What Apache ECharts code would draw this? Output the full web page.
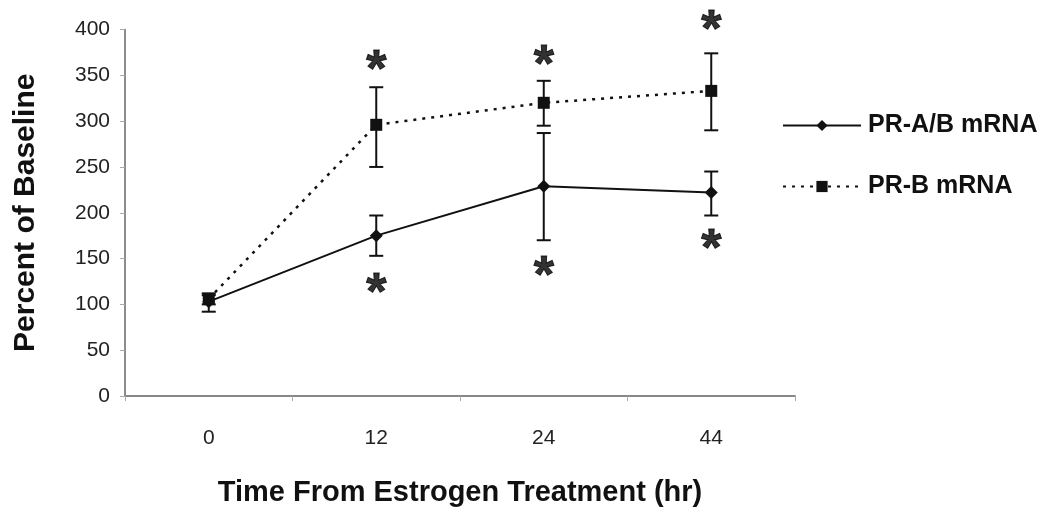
<!DOCTYPE html>
<html>
<head>
<meta charset="utf-8">
<script src="https://cdn.jsdelivr.net/npm/echarts@6/dist/echarts.min.js"></script>
<style>html,body{margin:0;padding:0;background:#fff}#c{width:1052px;height:512px}</style>
</head>
<body>
<div id="c"></div>
<script>
var categories = ['0', '12', '24', '44'];
var prAB = [103, 175, 229, 222];
var prABLow = [92, 153, 170, 197];
var prABHigh = [110, 197, 287, 245];
var prB = [106, 296, 320, 333];
var prBLow = [100, 250, 295, 290];
var prBHigh = [112, 337, 344, 374];
var starPositions = [[1, 365], [1, 121], [2, 370], [2, 140], [3, 409], [3, 169]];
var yTicks = [0, 50, 100, 150, 200, 250, 300, 350, 400];

function errData(lo, hi) {
  return categories.map(function (c, i) { return [i, lo[i], hi[i]]; });
}
function errRender(params, api) {
  var x = api.value(0);
  var p1 = api.coord([x, api.value(1)]);
  var p2 = api.coord([x, api.value(2)]);
  var w = 7;
  var st = { stroke: '#111', lineWidth: 2 };
  return {
    type: 'group',
    children: [
      { type: 'line', shape: { x1: p1[0], y1: p1[1], x2: p2[0], y2: p2[1] }, style: st },
      { type: 'line', shape: { x1: p1[0] - w, y1: p1[1], x2: p1[0] + w, y2: p1[1] }, style: st },
      { type: 'line', shape: { x1: p2[0] - w, y1: p2[1], x2: p2[0] + w, y2: p2[1] }, style: st }
    ]
  };
}

var chart = echarts.init(document.getElementById('c'), null, { renderer: 'canvas' });
chart.setOption({
  animation: false,
  backgroundColor: '#fff',
  textStyle: { fontFamily: 'Liberation Sans, Arial, sans-serif' },
  grid: { left: 125, right: 257, top: 29.5, bottom: 112, containLabel: false },
  legend: {
    orient: 'vertical',
    left: 782,
    top: 113,
    padding: 0,
    itemWidth: 78,
    itemHeight: 14,
    itemGap: 36,
    data: ['PR-A/B mRNA', 'PR-B mRNA'],
    textStyle: { fontSize: 25, fontWeight: 'bold', color: '#111', padding: [0, 0, 0, 2] }
  },
  xAxis: {
    type: 'category',
    data: categories,
    boundaryGap: true,
    name: 'Time From Estrogen Treatment (hr)',
    nameLocation: 'middle',
    nameGap: 82,
    nameTextStyle: { fontSize: 29, fontWeight: 'bold', color: '#111' },
    axisLine: { lineStyle: { color: '#888', width: 2 } },
    axisTick: { show: true, length: 5, lineStyle: { color: '#aaa' } },
    axisLabel: { fontSize: 21, color: '#222', margin: 32 }
  },
  yAxis: {
    type: 'value',
    min: yTicks[0],
    max: yTicks[yTicks.length - 1],
    interval: 50,
    name: 'Percent of Baseline',
    nameLocation: 'middle',
    nameGap: 84,
    nameRotate: 90,
    nameTextStyle: { fontSize: 30, fontWeight: 'bold', color: '#111' },
    axisLine: { show: true, lineStyle: { color: '#666', width: 1.5 } },
    axisTick: { show: true, length: 5, lineStyle: { color: '#aaa' } },
    axisLabel: { fontSize: 21, color: '#222', margin: 15 },
    splitLine: { show: false }
  },
  series: [
    {
      name: 'PR-A/B mRNA', type: 'line', data: prAB,
      symbol: 'diamond', symbolSize: 13,
      lineStyle: { color: '#111', width: 2, type: 'solid' },
      itemStyle: { color: '#111' }, z: 3
    },
    {
      name: 'PR-B mRNA', type: 'line', data: prB,
      symbol: 'rect', symbolSize: 12,
      lineStyle: { color: '#111', width: 2.5, type: [3, 6] },
      itemStyle: { color: '#111' }, z: 3
    },
    {
      type: 'custom', name: 'errAB', renderItem: errRender,
      data: errData(prABLow, prABHigh), encode: { x: 0, y: [1, 2] }, z: 2
    },
    {
      type: 'custom', name: 'errB', renderItem: errRender,
      data: errData(prBLow, prBHigh), encode: { x: 0, y: [1, 2] }, z: 2
    },
    {
      type: 'scatter', name: 'stars', data: starPositions,
      symbolSize: 0, clip: false, silent: true,
      label: { show: true, formatter: '*', position: 'inside', fontSize: 52, fontWeight: 'bold', color: '#000', textBorderColor: '#000', textBorderWidth: 1, offset: [0, 10] }
    }
  ]
});
</script>
</body>
</html>
